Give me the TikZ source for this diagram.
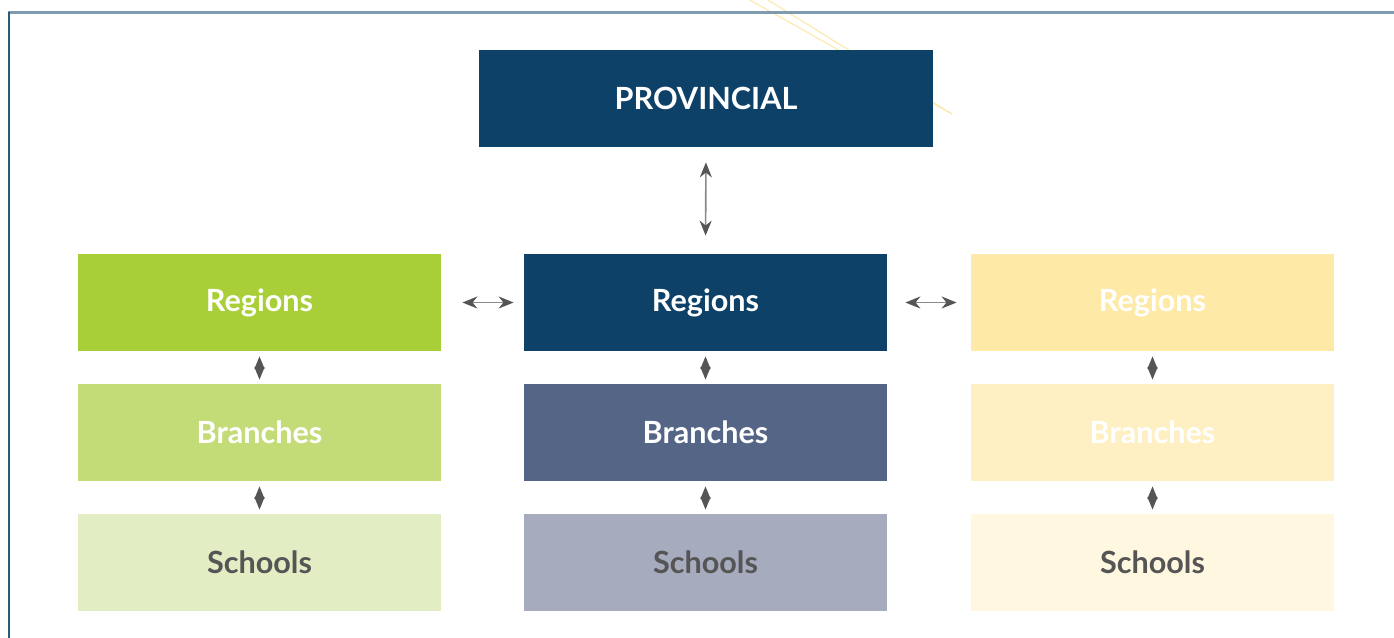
\documentclass[tikz,border=0pt]{standalone}
\usepackage{fontspec}
\setmainfont{Lato}
\usetikzlibrary{arrows.meta}
\definecolor{navy}{HTML}{0D4168}
\definecolor{gA}{HTML}{A8CF38}
\definecolor{gB}{HTML}{C3DC78}
\definecolor{gC}{HTML}{E2EDC4}
\definecolor{bB}{HTML}{546585}
\definecolor{bC}{HTML}{A6ABBE}
\definecolor{yA}{HTML}{FEEAA6}
\definecolor{yB}{HTML}{FEF0C2}
\definecolor{yC}{HTML}{FFF7E0}
\definecolor{darktext}{HTML}{555555}
\definecolor{topline}{HTML}{7F9BB0}
\definecolor{leftline}{HTML}{2A5B7A}
\definecolor{arrline}{HTML}{8A8A8A}
\definecolor{arrhead}{HTML}{555555}
\definecolor{faintyellow}{HTML}{FCEBB0}
\begin{document}
\begin{tikzpicture}[x=0.5pt,y=-0.5pt,
  box/.style={rectangle,inner sep=0pt,minimum width=181.5pt,minimum height=48.5pt,
    font=\fontsize{15.3}{18}\selectfont\bfseries,text=white},
  darkbox/.style={box,text=darktext},
  bigarrow/.style={draw=arrline,line width=0.8pt,
    {Stealth[length=7.5pt,width=6pt,color=arrhead]}-{Stealth[length=7.5pt,width=6pt,color=arrhead]}},
  smallarrow/.style={draw=arrhead,line width=0.8pt,
    {Stealth[length=6.2pt,width=5pt,inset=0.6pt,color=arrhead]}-{Stealth[length=6.2pt,width=5pt,inset=0.6pt,color=arrhead]}}]
\useasboundingbox[fill=white] (0,0) rectangle (1394,638);
% faint decorative lines
\coordinate (d1a) at (750,0);
\coordinate (d1b) at (952,114);
\coordinate (d2a) at (768,0);
\coordinate (d2b) at (952,114);
\draw[faintyellow,line width=0.6pt] (d1a) -- (d1b);
\draw[faintyellow,line width=0.6pt] (d2a) -- (d2b);
% frame
\coordinate (f1) at (8,12.5);
\coordinate (f2) at (1394,12.5);
\coordinate (f3) at (9,638);
\draw[topline,line width=1.2pt] (f1) -- (f2);
\draw[leftline,line width=1.2pt] (9,12) -- (f3);
% boxes
\node[box,fill=navy,minimum width=227pt] (prov) at (706,98.5) {PROVINCIAL};
\node[box,fill=gA] (lr) at (259.5,302.5) {Regions};
\node[box,fill=gB] (lb) at (259.5,432.5) {Branches};
\node[darkbox,fill=gC] (ls) at (259.5,562.5) {Schools};
\node[box,fill=navy] (mr) at (705.5,302.5) {Regions};
\node[box,fill=bB] (mb) at (705.5,432.5) {Branches};
\node[darkbox,fill=bC] (ms) at (705.5,562.5) {Schools};
\node[box,fill=yA] (rr) at (1152.5,302.5) {Regions};
\node[box,fill=yB] (rb) at (1152.5,432.5) {Branches};
\node[darkbox,fill=yC] (rs) at (1152.5,562.5) {Schools};
% arrows
\draw[bigarrow,shorten <=7.5pt,shorten >=9pt] (prov.south) -- (mr.north);
\draw[bigarrow,shorten <=10.5pt,shorten >=5pt] (lr.east) -- (mr.west);
\draw[bigarrow,shorten <=9pt,shorten >=7pt] (mr.east) -- (rr.west);
\foreach \a/\b in {lr/lb,lb/ls,mr/mb,mb/ms,rr/rb,rb/rs}
  \draw[smallarrow,shorten <=2.5pt,shorten >=2pt] (\a.south) -- (\b.north);
\end{tikzpicture}
\end{document}
